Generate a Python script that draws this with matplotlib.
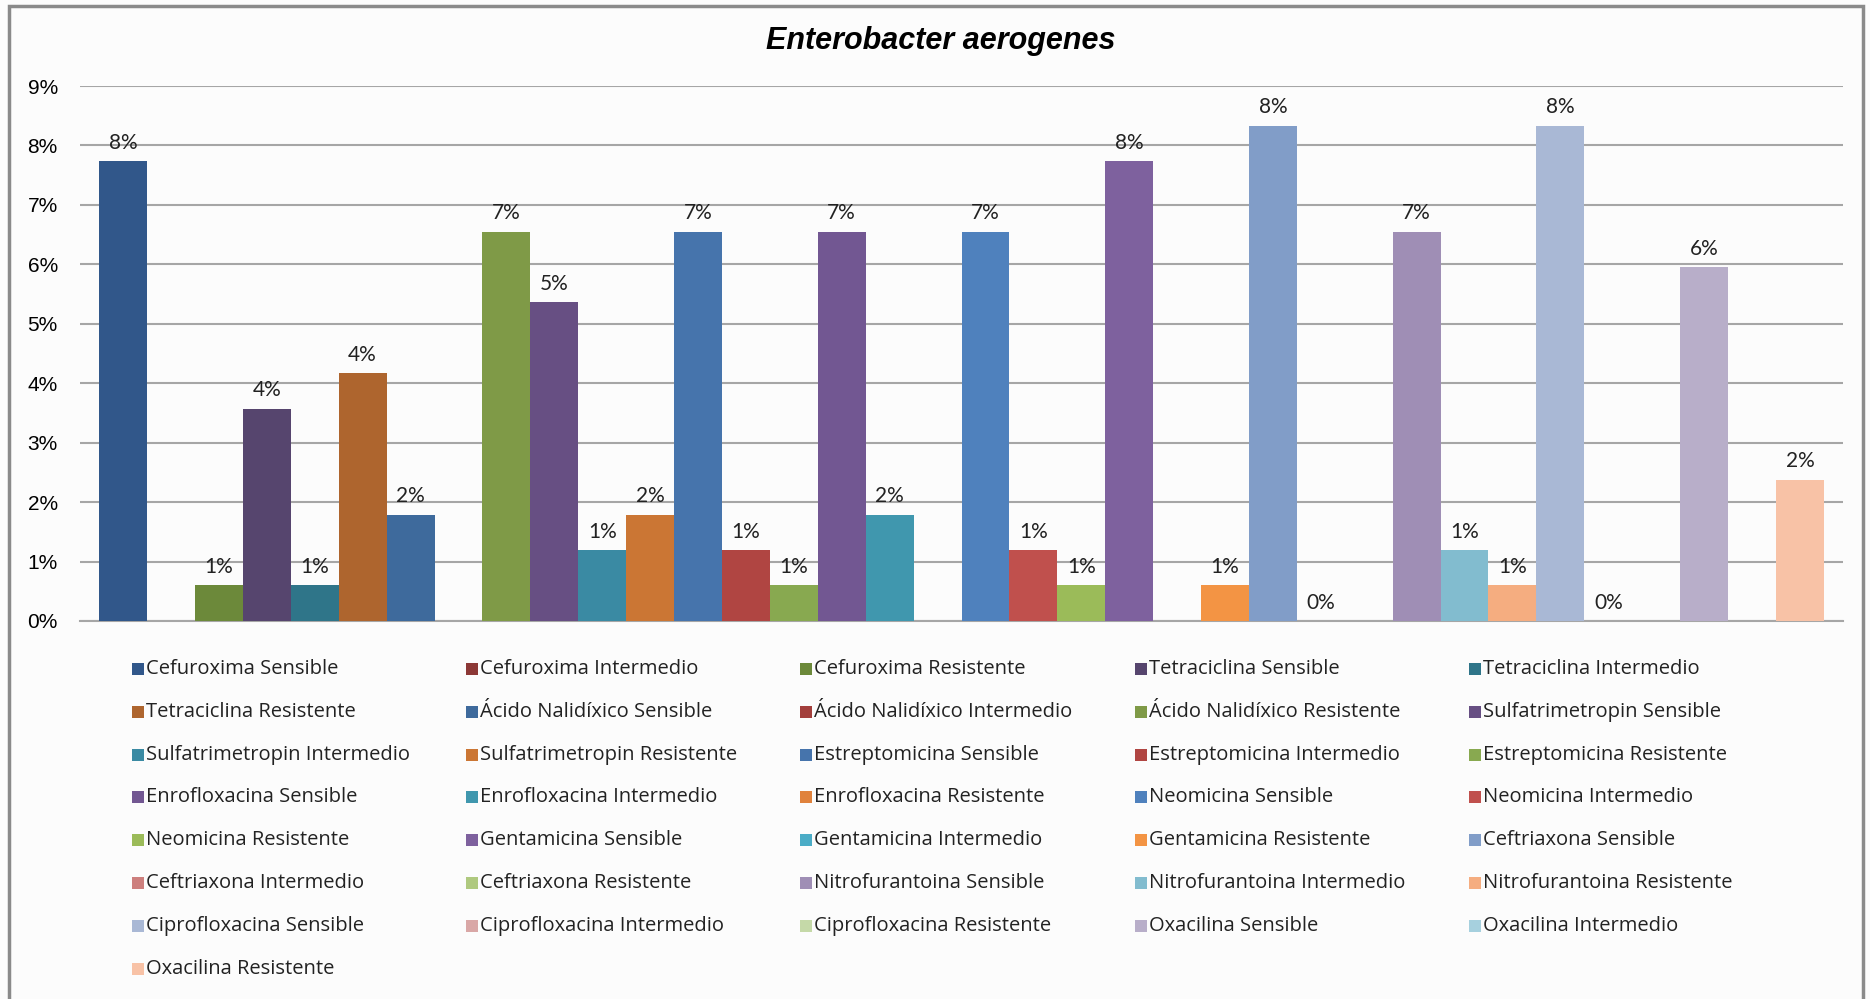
import numpy as np
import matplotlib
matplotlib.use("Agg")
import matplotlib.pyplot as plt
from matplotlib.patches import Rectangle

# antibiotic x result series, one bar each (blank cells are nan)
series = [
    "Cefuroxima Sensible", "Cefuroxima Intermedio", "Cefuroxima Resistente",
    "Tetraciclina Sensible", "Tetraciclina Intermedio", "Tetraciclina Resistente",
    "Ácido Nalidíxico Sensible", "Ácido Nalidíxico Intermedio", "Ácido Nalidíxico Resistente",
    "Sulfatrimetropin Sensible", "Sulfatrimetropin Intermedio", "Sulfatrimetropin Resistente",
    "Estreptomicina Sensible", "Estreptomicina Intermedio", "Estreptomicina Resistente",
    "Enrofloxacina Sensible", "Enrofloxacina Intermedio", "Enrofloxacina Resistente",
    "Neomicina Sensible", "Neomicina Intermedio", "Neomicina Resistente",
    "Gentamicina Sensible", "Gentamicina Intermedio", "Gentamicina Resistente",
    "Ceftriaxona Sensible", "Ceftriaxona Intermedio", "Ceftriaxona Resistente",
    "Nitrofurantoina Sensible", "Nitrofurantoina Intermedio", "Nitrofurantoina Resistente",
    "Ciprofloxacina Sensible", "Ciprofloxacina Intermedio", "Ciprofloxacina Resistente",
    "Oxacilina Sensible", "Oxacilina Intermedio", "Oxacilina Resistente",
]
nan = np.nan
values = [
    7.74, nan, 0.60,
    3.57, 0.60, 4.17,
    1.79, nan, 6.55,
    5.36, 1.19, 1.79,
    6.55, 1.19, 0.60,
    6.55, 1.79, nan,
    6.55, 1.19, 0.60,
    7.74, nan, 0.60,
    8.33, 0.0, nan,
    6.55, 1.19, 0.60,
    8.33, 0.0, nan,
    5.95, nan, 2.38,
]
colors = [
    "#31578A", "#8C3836", "#6C893A", "#56456E", "#2F7589", "#AE652E",
    "#3E6A9C", "#A33F3C", "#7F9A47", "#674F83", "#3A8AA3", "#CB7634",
    "#4674AC", "#B04542", "#88A950", "#725792", "#4097AE", "#E0823C",
    "#4F81BD", "#C0504D", "#9BBB59", "#7E619E", "#4BACC6", "#F39444",
    "#819DC8", "#CD7F7D", "#AFC97F", "#9F8EB5", "#82BCCF", "#F5AD80",
    "#A9B8D5", "#D9A7A6", "#C5D9A8", "#B8AEC9", "#A6D0DE", "#F8C2A6",
]
yticks = list(range(0, 10))

W, H = 1870, 999
fig = plt.figure(figsize=(W / 100, H / 100), dpi=100)
fig.patch.set_facecolor("#fcfcfc")

ax = fig.add_axes([80 / W, 1 - 621 / H, (1843 - 80) / W, (621 - 86) / H])
ax.set_facecolor("#fcfcfc")

x = np.arange(len(values))
v = np.array(values, dtype=float)
ax.bar(x, np.nan_to_num(v), width=1.0, color=colors, edgecolor="none", zorder=3)

for xi, val in zip(x, v):
    if np.isnan(val):
        continue
    ax.annotate(f"{val:.0f}%", (xi, val), xytext=(0, 6), textcoords="offset points",
                ha="center", va="bottom", fontsize=15, family="Lato", color="#222222")

ax.set_xlim(-0.9, 35.9)
ax.set_ylim(0, 9)
ax.set_yticks(yticks)
ax.set_yticklabels([f"{t}%" for t in yticks], family="Liberation Sans", fontsize=15)
ax.set_xticks([])
ax.tick_params(axis="y", length=0, pad=16)
ax.grid(axis="y", color="#a6a6a6", linewidth=1.5, zorder=0)
for s in ["top", "right", "left"]:
    ax.spines[s].set_visible(False)
ax.spines["bottom"].set_color("#a6a6a6")
ax.spines["bottom"].set_linewidth(1.5)

fig.text(941 / W, 1 - 41 / H, "Enterobacter aerogenes", ha="center", va="center",
         fontsize=22, fontweight="bold", fontstyle="italic", family="Liberation Sans")

# legend, filled row by row in 5 equal columns
for i, (name, c) in enumerate(zip(series, colors)):
    r, col = divmod(i, 5)
    lx = 132 + col * 334.2
    ly = 669 + r * 42.8
    fig.patches.append(Rectangle((lx / W, 1 - (ly + 6) / H), 12 / W, 12 / H,
                                 transform=fig.transFigure, facecolor=c, edgecolor="none"))
    fig.text((lx + 14) / W, 1 - ly / H, name, ha="left", va="center",
             fontsize=14.5, family="Open Sans", color="#222222")

# outer frame
fig.patches.append(Rectangle((9 / W, -0.01), (1863 - 9) / W, 1 - 6 / H + 0.01,
                             transform=fig.transFigure, fill=False,
                             edgecolor="#8a8a8a", linewidth=2.5))

fig.savefig("out.png", dpi=100, facecolor=fig.get_facecolor())
